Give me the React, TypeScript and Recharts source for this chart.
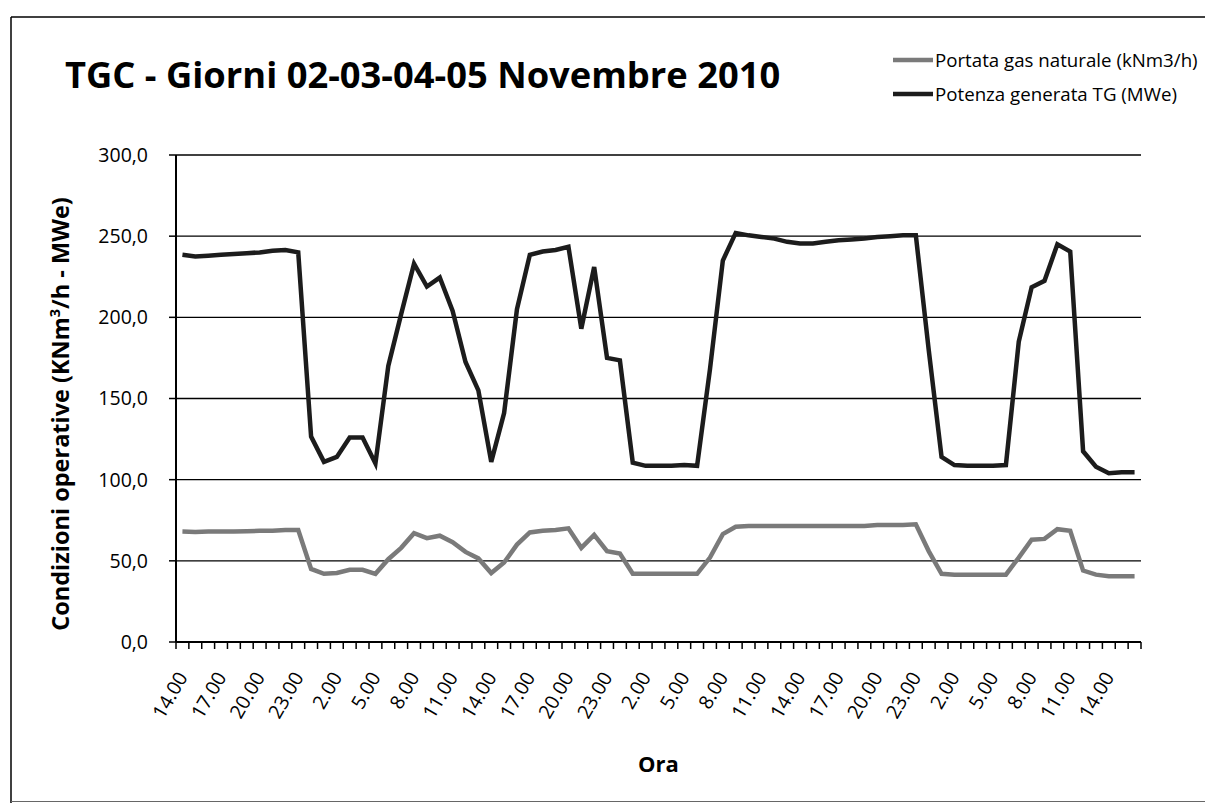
import React from 'react';
import { LineChart, Line, XAxis, YAxis, CartesianGrid } from 'recharts';

// categorie: ore dal 02/11 ore 14 al 05/11 ore 16
const ore = [
  '14.00', '15.00', '16.00', '17.00', '18.00', '19.00', '20.00', '21.00', '22.00', '23.00',
  '0.00', '1.00', '2.00', '3.00', '4.00', '5.00', '6.00', '7.00', '8.00', '9.00', '10.00', '11.00', '12.00', '13.00',
  '14.00', '15.00', '16.00', '17.00', '18.00', '19.00', '20.00', '21.00', '22.00', '23.00',
  '0.00', '1.00', '2.00', '3.00', '4.00', '5.00', '6.00', '7.00', '8.00', '9.00', '10.00', '11.00', '12.00', '13.00',
  '14.00', '15.00', '16.00', '17.00', '18.00', '19.00', '20.00', '21.00', '22.00', '23.00',
  '0.00', '1.00', '2.00', '3.00', '4.00', '5.00', '6.00', '7.00', '8.00', '9.00', '10.00', '11.00', '12.00', '13.00',
  '14.00', '15.00', '16.00',
];

// Portata gas naturale (kNm3/h)
const portataGas = [
  68, 67.8, 68, 68, 68, 68.2, 68.5, 68.5, 69, 69,
  45, 42, 42.5, 44.5, 44.5, 42, 51, 58, 67, 64, 65.5, 61.5, 55.5, 51.5,
  42.5, 49, 60, 67.5, 68.5, 69, 70, 58, 66, 56,
  54.5, 42, 42, 42, 42, 42, 42, 52, 66.5, 71, 71.5, 71.5, 71.5, 71.5,
  71.5, 71.5, 71.5, 71.5, 71.5, 71.5, 72, 72, 72, 72.5,
  56, 42, 41.5, 41.5, 41.5, 41.5, 41.5, 52, 63, 63.5, 69.5, 68.5, 44, 41.5,
  40.5, 40.5, 40.5,
];

// Potenza generata TG (MWe)
const potenzaTG = [
  238.5, 237.5, 238, 238.5, 239, 239.5, 240, 241, 241.5, 240,
  126.5, 111, 114, 126, 126, 110, 170, 202, 233, 219, 224.5, 204, 172.5, 155,
  111, 141, 205, 238.5, 240.5, 241.5, 243.5, 193, 231, 175,
  173.5, 110.5, 108.5, 108.5, 108.5, 109, 108.5, 168, 235, 252, 250.5, 249.5, 248.5, 246.5,
  245.5, 245.5, 246.5, 247.5, 248, 248.5, 249.5, 250, 250.5, 250.5,
  180, 114, 109, 108.5, 108.5, 108.5, 109, 185, 218.5, 222.5, 245, 240.5, 117.5, 108,
  104, 104.5, 104.5,
];

const yTicks = [0, 50, 100, 150, 200, 250, 300];

const data = ore.map((ora, i) => ({ ora, gas: portataGas[i], potenza: potenzaTG[i] }));

const W = 1205;
const H = 803;
const PLOT_LEFT = 176;
const PLOT_RIGHT = 1141;
const PLOT_TOP = 155;
const PLOT_BOTTOM = 642;
const X_AXIS_H = 100;
const STEP = (PLOT_RIGHT - PLOT_LEFT) / ore.length;
const FONT = '"Open Sans", sans-serif';
const GAS_COLOR = '#7a7a7a';
const TG_COLOR = '#1c1c1c';

const OraTick = (props: any) => {
  const { x, index, payload } = props;
  const lx = x - STEP / 2;
  const tx = x + 6;
  const ty = PLOT_BOTTOM + 35;
  return (
    <g>
      <line x1={lx} x2={lx} y1={PLOT_BOTTOM} y2={PLOT_BOTTOM + 7} stroke="#000" strokeWidth={1.5} />
      {index === ore.length - 1 && (
        <line x1={x + STEP / 2} x2={x + STEP / 2} y1={PLOT_BOTTOM} y2={PLOT_BOTTOM + 7} stroke="#000" strokeWidth={1.5} />
      )}
      {index % 3 === 0 && (
        <text
          x={tx}
          y={ty}
          textAnchor="end"
          transform={`rotate(-60 ${tx} ${ty})`}
          fontSize={19.5}
          fontFamily={FONT}
          fill="#000"
        >
          {payload.value}
        </text>
      )}
    </g>
  );
};

export default function App() {
  return (
    <div style={{ position: 'absolute', left: 0, top: 0, width: W, height: H, overflow: 'hidden', background: '#fff' }}>
      <LineChart
        width={W}
        height={H}
        data={data}
        margin={{ top: PLOT_TOP, right: W - PLOT_RIGHT, bottom: H - PLOT_BOTTOM - X_AXIS_H, left: 0 }}
      >
        <CartesianGrid vertical={false} stroke="#000" strokeWidth={1.4} />
        <XAxis
          dataKey="ora"
          interval={0}
          height={X_AXIS_H}
          padding={{ left: STEP / 2, right: STEP / 2 }}
          axisLine={{ stroke: '#000', strokeWidth: 2 }}
          tickLine={false}
          tick={<OraTick />}
        />
        <YAxis
          width={PLOT_LEFT}
          domain={[0, 300]}
          ticks={yTicks}
          interval={0}
          tickFormatter={(v: number) => v.toFixed(1).replace('.', ',')}
          axisLine={{ stroke: '#000', strokeWidth: 2 }}
          tickLine={{ stroke: '#000', strokeWidth: 1.5 }}
          tickSize={7}
          tickMargin={21}
          tick={{ fontSize: 19.5, fontFamily: FONT, fill: '#000' }}
        />
        <Line
          type="linear"
          dataKey="gas"
          stroke={GAS_COLOR}
          strokeWidth={4.5}
          dot={false}
          isAnimationActive={false}
        />
        <Line
          type="linear"
          dataKey="potenza"
          stroke={TG_COLOR}
          strokeWidth={4.5}
          dot={false}
          isAnimationActive={false}
        />
      </LineChart>

      <svg
        width={W}
        height={H}
        style={{ position: 'absolute', left: 0, top: 0, pointerEvents: 'none' }}
        fontFamily={FONT}
      >
        {/* cornice dell'area grafico */}
        <line x1={11} x2={W} y1={17} y2={17} stroke="#000" strokeWidth={1.5} />
        <line x1={11} x2={11} y1={17} y2={H} stroke="#000" strokeWidth={1.5} />
        <line x1={11} x2={W} y1={801.5} y2={801.5} stroke="#666" strokeWidth={1} />

        <text x={65} y={88} fontSize={36.3} fontWeight="bold" fill="#000">
          TGC - Giorni 02-03-04-05 Novembre 2010
        </text>

        <line x1={893} x2={933} y1={60} y2={60} stroke={GAS_COLOR} strokeWidth={4.5} />
        <text x={935} y={67} fontSize={18.7} fill="#000">Portata gas naturale (kNm3/h)</text>
        <line x1={893} x2={933} y1={94} y2={94} stroke={TG_COLOR} strokeWidth={4.5} />
        <text x={935} y={101} fontSize={18.7} fill="#000">Potenza generata TG (MWe)</text>

        <text
          transform="translate(69 414) rotate(-90)"
          textAnchor="middle"
          fontSize={23.5}
          fontWeight="bold"
          fill="#000"
        >
          Condizioni operative (KNm<tspan fontSize={14.5} dy={-9}>3</tspan><tspan dy={9}>/h - MWe)</tspan>
        </text>

        <text x={(PLOT_LEFT + PLOT_RIGHT) / 2} y={772} textAnchor="middle" fontSize={22} fontWeight="bold" fill="#000">
          Ora
        </text>
      </svg>
    </div>
  );
}
